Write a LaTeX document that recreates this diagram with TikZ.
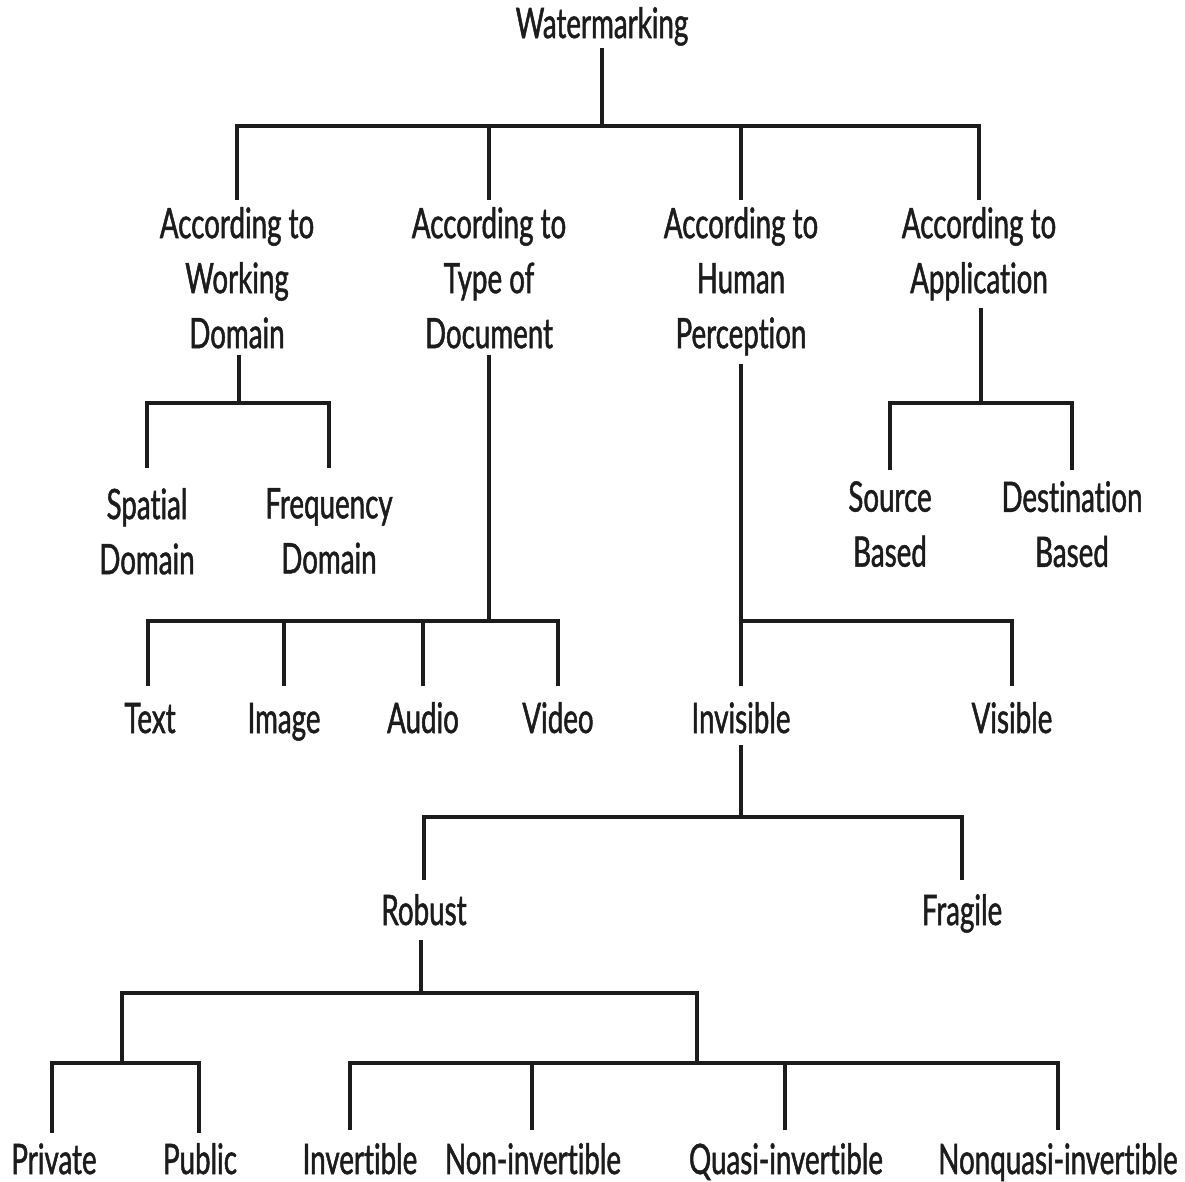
\documentclass[tikz,border=0pt]{standalone}
\usepackage{fontspec}
\setmainfont{Lato}[FakeStretch=0.66, FakeBold=1.2, Ligatures=NoCommon]
\definecolor{ink}{HTML}{1C1C1C}
\begin{document}
\begin{tikzpicture}[x=1pt,y=-1pt,
  lab/.style={font=\fontsize{42}{55}\selectfont, text=ink, inner sep=0pt, align=center},
  multi/.style={lab, anchor=north},
  leaf/.style={lab, anchor=base, text height=31pt, text depth=9pt},
  conn/.style={line width=3.5pt, draw=ink, line join=miter}]
\useasboundingbox (0,0) rectangle (1185,1181);

% nodes
\node[leaf]  (wm)  at (602,38)  {Watermarking};
\node[multi] (l1a) at (237,207) {According to\\Working\\Domain};
\node[multi] (l1b) at (489,207) {According to\\Type of\\Document};
\node[multi] (l1c) at (741,207) {According to\\Human\\Perception};
\node[multi] (l1d) at (979,207) {According to\\Application};

\node[multi] (sp)  at (147,488) {Spatial\\Domain};
\node[multi] (fr)  at (329,488) {Frequency\\Domain};
\node[multi] (src) at (890,481) {Source\\Based};
\node[multi] (dst) at (1072,481) {Destination\\Based};

\node[leaf] (tx)  at (150,733) {Text};
\node[leaf] (im)  at (284,733) {Image};
\node[leaf] (au)  at (423,733) {Audio};
\node[leaf] (vi)  at (558,733) {Video};
\node[leaf] (inv) at (741,733) {Invisible};
\node[leaf] (vis) at (1012,733) {Visible};

\node[leaf] (rob) at (424,925) {Robust};
\node[leaf] (fra) at (962,925) {Fragile};

\node[leaf] (pri) at (54,1174)  {Private};
\node[leaf] (pub) at (200,1174) {Public};
\node[leaf] (iv)  at (360,1174) {Invertible};
\node[leaf] (ni)  at (533,1174) {Non-invertible};
\node[leaf] (qi)  at (786,1174) {Quasi-invertible};
\node[leaf] (nq)  at (1058,1174) {Nonquasi-invertible};

% branch points
\coordinate (t)  at (602,126);
\coordinate (g1) at (122,1063);
\coordinate (g2) at (697,1063);

% top level
\draw[conn] ([yshift=-1pt]wm.south) -- (t);
\draw[conn] ([yshift=7pt]l1a.north) -- (l1a.north |- t) -- (l1d.north |- t) -- ([yshift=7pt]l1d.north);
\draw[conn] ([yshift=7pt]l1b.north) -- (l1b.north |- t);
\draw[conn] ([yshift=7pt]l1c.north) -- (l1c.north |- t);

% working domain
\draw[conn] ([xshift=2pt,yshift=-6pt]l1a.south) -- ([xshift=2pt]l1a.south |- 0,403);
\draw[conn] ([yshift=20pt]sp.north) -- (sp.north |- 0,403) -- (fr.north |- 0,403) -- ([yshift=20pt]fr.north);

% type of document
\draw[conn] ([yshift=-6pt]l1b.south) -- (l1b.south |- 0,621);
\draw[conn] ([xshift=-2pt,yshift=16pt]tx.north) -- ([xshift=-2pt]tx.north |- 0,621) -- (vi.north |- 0,621) -- ([yshift=16pt]vi.north);
\draw[conn] ([yshift=16pt]im.north) -- (im.north |- 0,621);
\draw[conn] ([yshift=16pt]au.north) -- (au.north |- 0,621);

% human perception
\draw[conn] ([yshift=-8pt]l1c.south) -- ([yshift=16pt]inv.north);
\draw[conn] (inv.north |- 0,621) -- (vis.north |- 0,621) -- ([yshift=16pt]vis.north);

% application
\draw[conn] ([xshift=2pt,yshift=-7pt]l1d.south) -- ([xshift=2pt]l1d.south |- 0,403);
\draw[conn] ([yshift=11pt]src.north) -- (src.north |- 0,403) -- (dst.north |- 0,403) -- ([yshift=11pt]dst.north);

% invisible
\draw[conn] ([yshift=-3pt]inv.south) -- (inv.south |- 0,817);
\draw[conn] ([yshift=14pt]rob.north) -- (rob.north |- 0,817) -- (fra.north |- 0,817) -- ([yshift=14pt]fra.north);

% robust
\draw[conn] ([xshift=-3pt,yshift=-6pt]rob.south) -- ([xshift=-3pt]rob.south |- 0,993);
\draw[conn] (g1) -- (g1 |- 0,993) -- (g2 |- 0,993) -- (g2);

\draw[conn] ([xshift=-2pt,yshift=10pt]pri.north) -- ([xshift=-2pt]pri.north |- g1) -- ([xshift=-1pt]pub.north |- g1) -- ([xshift=-1pt,yshift=10pt]pub.north);

\draw[conn] ([xshift=-10pt,yshift=13pt]iv.north) -- ([xshift=-10pt]iv.north |- g2) -- (nq.north |- g2) -- ([yshift=13pt]nq.north);
\draw[conn] ([xshift=-1pt,yshift=13pt]ni.north) -- ([xshift=-1pt]ni.north |- g2);
\draw[conn] ([xshift=-1pt,yshift=13pt]qi.north) -- ([xshift=-1pt]qi.north |- g2);
\end{tikzpicture}
\end{document}
